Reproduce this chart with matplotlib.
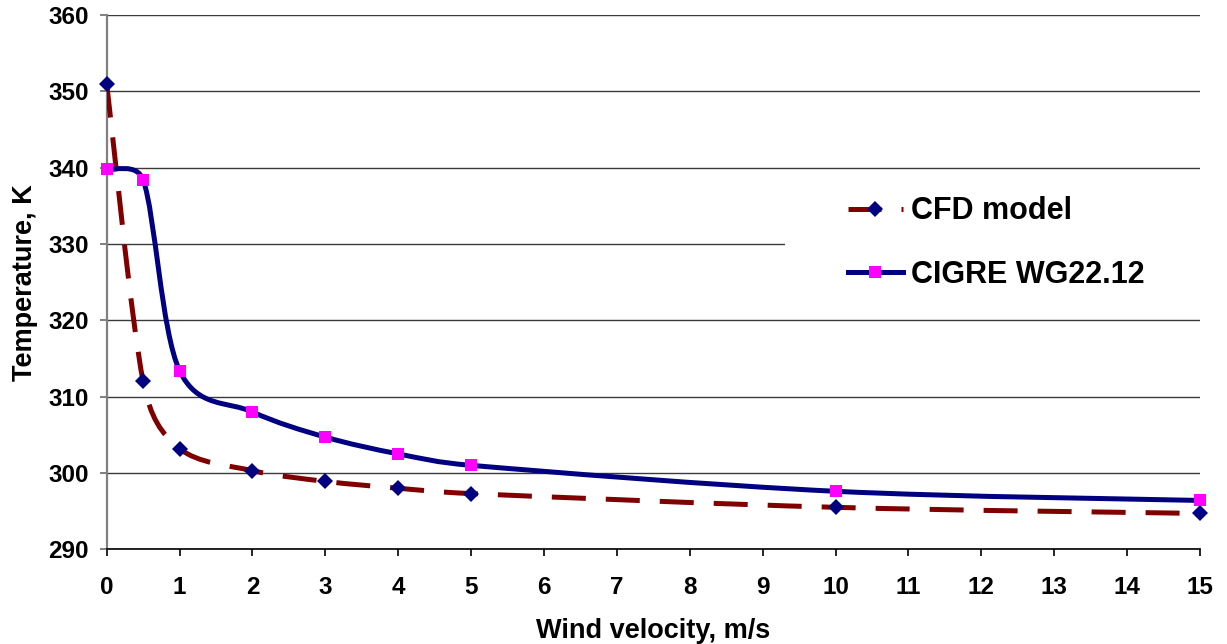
import numpy as np
import matplotlib
matplotlib.use('Agg')
import matplotlib.pyplot as plt
from matplotlib.path import Path
from matplotlib.patches import PathPatch, Rectangle
from matplotlib.lines import Line2D

# ── Data ─────────────────────────────────────────────────────────────────────
wind = [0, 0.5, 1, 2, 3, 4, 5, 10, 15]
cfd_temp = [351.0, 312.0, 303.2, 300.3, 298.9, 298.0, 297.3, 295.5, 294.7]
cigre_temp = [339.8, 338.4, 313.4, 308.0, 304.7, 302.5, 301.0, 297.6, 296.4]

x_ticks = list(range(0, 16))
y_ticks = [290, 300, 310, 320, 330, 340, 350, 360]

FONT = 'Liberation Sans'
CFD_LINE = '#800000'
CIGRE_LINE = '#000080'
DIAMOND = '#000080'
SQUARE = '#FF00FF'
LW = 3.6
DASH = (0, (6.8, 4.0))


def smooth_path(ax, xs, ys):
    # Excel-like smoothed line: Bezier segments, control arms of 1/6 of the
    # neighbour chord, capped at half the segment length (in screen space)
    pix = ax.transData.transform(np.column_stack([xs, ys]))
    n = len(pix)
    verts = [pix[0]]
    codes = [Path.MOVETO]
    for i in range(n - 1):
        p0 = pix[i - 1] if i > 0 else pix[i]
        p1, p2 = pix[i], pix[i + 1]
        p3 = pix[i + 2] if i + 2 < n else pix[i + 1]
        half = np.linalg.norm(p2 - p1) / 2.0
        a1 = (p2 - p0) / 6.0
        a2 = (p3 - p1) / 6.0
        if np.linalg.norm(a1) > half:
            a1 = a1 * half / np.linalg.norm(a1)
        if np.linalg.norm(a2) > half:
            a2 = a2 * half / np.linalg.norm(a2)
        verts += [p1 + a1, p2 - a2, p2]
        codes += [Path.CURVE4] * 3
    data = ax.transData.inverted().transform(np.array(verts))
    return Path(data, codes)


fig = plt.figure(figsize=(12.27, 6.44), dpi=100)
fig.patch.set_facecolor('white')
ax = fig.add_axes([106.7 / 1227, (644 - 549.3) / 644, 1093.3 / 1227, 534.3 / 644])
ax.set_facecolor('white')

ax.set_xlim(0, 15)
ax.set_ylim(290, 360)
ax.set_xticks(x_ticks)
ax.set_yticks(y_ticks)

# horizontal gridlines
ax.yaxis.grid(True, color='#3a3a3a', linewidth=1.0)
ax.set_axisbelow(True)

for s in ['top', 'right']:
    ax.spines[s].set_visible(False)
ax.spines['left'].set_color('#808080')
ax.spines['left'].set_linewidth(1.6)
ax.spines['bottom'].set_color('black')
ax.spines['bottom'].set_linewidth(1.2)

# legend background hides part of the 330 gridline
ax.add_patch(Rectangle((0.62, 0.444), 0.38, 0.252, transform=ax.transAxes,
                       facecolor='white', edgecolor='none', zorder=1.5))

# ── Curves ───────────────────────────────────────────────────────────────────
ax.add_patch(PathPatch(smooth_path(ax, wind, cfd_temp), facecolor='none',
                       edgecolor=CFD_LINE, linewidth=LW, zorder=3,
                       linestyle=DASH, capstyle='butt'))
ax.add_patch(PathPatch(smooth_path(ax, wind, cigre_temp), facecolor='none',
                       edgecolor=CIGRE_LINE, linewidth=LW, zorder=3))

ax.plot(wind, cfd_temp, linestyle='none', marker='D', markersize=8,
        color=DIAMOND, markeredgewidth=0, zorder=5, clip_on=False)
ax.plot(wind, cigre_temp, linestyle='none', marker='s', markersize=8,
        color=SQUARE, markeredgewidth=0, zorder=5, clip_on=False)

# ── Ticks & labels ───────────────────────────────────────────────────────────
ax.tick_params(axis='y', length=5, width=1.4, color='#808080', pad=8,
               labelsize=17.5)
ax.tick_params(axis='x', length=5, width=1.2, color='black', pad=14,
               labelsize=17.5)
for lab in ax.get_xticklabels() + ax.get_yticklabels():
    lab.set_fontfamily(FONT)
    lab.set_fontweight('bold')

ax.set_xlabel('Wind velocity, m/s', fontsize=19.5, fontweight='bold',
              fontfamily=FONT, labelpad=14)
ax.set_ylabel('Temperature, K', fontsize=19.5, fontweight='bold',
              fontfamily=FONT, labelpad=7.5)

# ── Legend ───────────────────────────────────────────────────────────────────
handles = [
    Line2D([0], [0], color=CFD_LINE, linewidth=LW, linestyle=(0, (6.6, 4.0)),
           marker='D', markersize=8, markerfacecolor=DIAMOND,
           markeredgewidth=0, label='CFD model'),
    Line2D([0], [0], color=CIGRE_LINE, linewidth=LW,
           marker='s', markersize=8, markerfacecolor=SQUARE,
           markeredgewidth=0, label='CIGRE WG22.12'),
]
ax.legend(handles=handles, loc='center left', bbox_to_anchor=(0.678, 0.573),
          frameon=False, borderpad=0, borderaxespad=0,
          handlelength=1.8, handletextpad=0.25, labelspacing=1.1,
          prop={'family': FONT, 'weight': 'bold', 'size': 22})

fig.savefig('out.png', dpi=100, facecolor='white')
